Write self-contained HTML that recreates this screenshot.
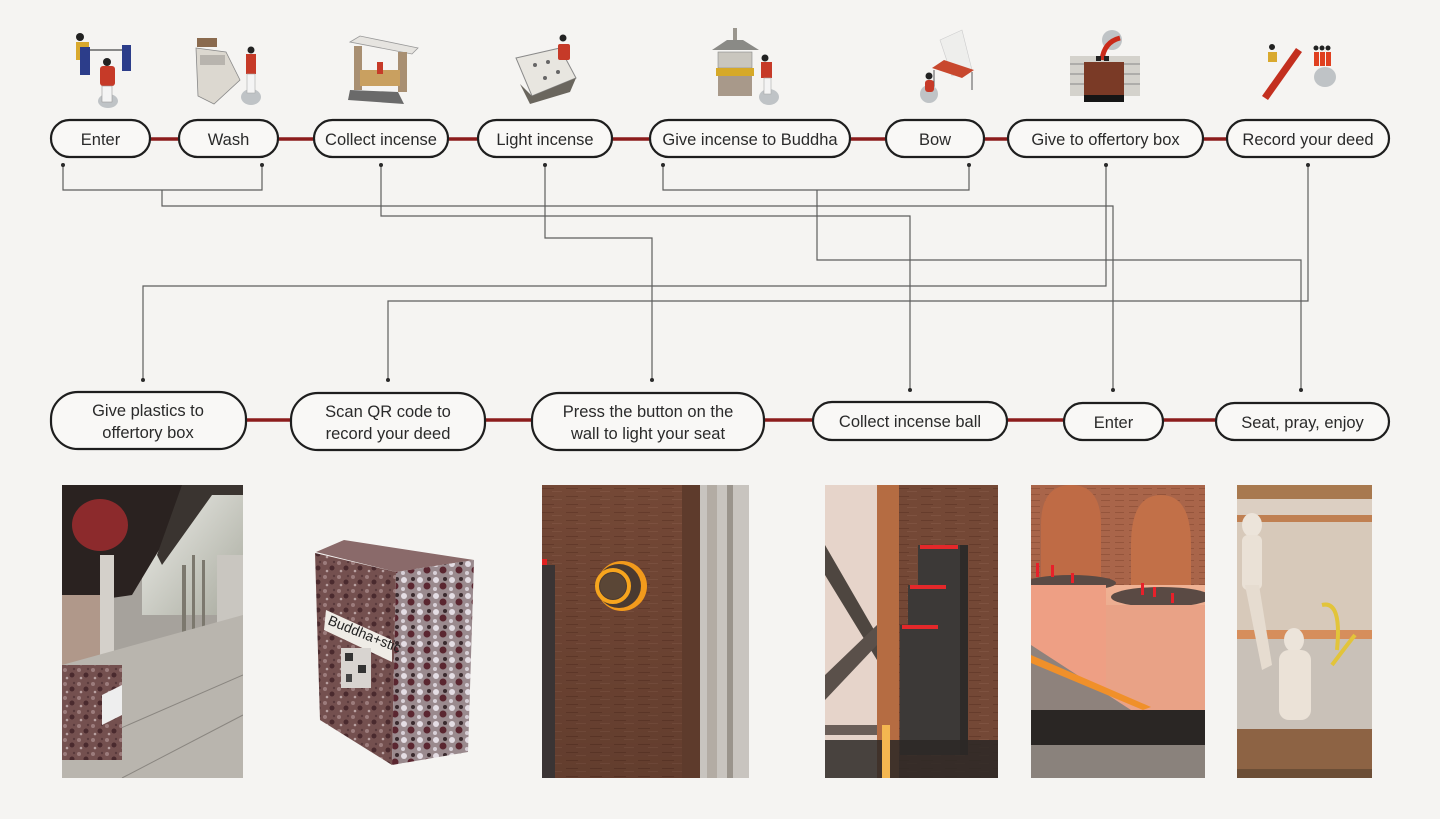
<!DOCTYPE html>
<html><head><meta charset="utf-8">
<style>
html,body{margin:0;padding:0;background:#f5f4f2;}
svg{display:block;}
text{font-family:"Liberation Sans",sans-serif;fill:#2a2a2a;}
</style></head>
<body>
<svg width="1440" height="819" viewBox="0 0 1440 819" xmlns="http://www.w3.org/2000/svg">
<defs>
<pattern id="speck" width="14" height="14" patternUnits="userSpaceOnUse">
<rect width="14" height="14" fill="#74504f"/>
<circle cx="3" cy="3" r="2" fill="#9c7c7c"/><circle cx="10" cy="8" r="2.5" fill="#4a2a2e"/>
<circle cx="5" cy="11" r="1.3" fill="#b8a0a0"/><circle cx="12" cy="2" r="1.2" fill="#5a3a3c"/>
</pattern>
<pattern id="speck2" width="16" height="16" patternUnits="userSpaceOnUse">
<rect width="16" height="16" fill="#9a8a8e"/>
<circle cx="4" cy="4" r="3" fill="#e4dde4"/><circle cx="11" cy="10" r="3.5" fill="#5a2630"/>
<circle cx="3" cy="13" r="2" fill="#d8d0d8"/><circle cx="13" cy="3" r="2" fill="#3a2a2e"/>
</pattern>
<pattern id="wall" width="24" height="8" patternUnits="userSpaceOnUse">
<rect width="24" height="8" fill="#744836"/>
<rect x="0" y="3" width="12" height="1" fill="#663c2c"/>
<rect x="10" y="6" width="10" height="1" fill="#7e5240"/>
</pattern>
<pattern id="brick" width="14" height="6" patternUnits="userSpaceOnUse">
<rect width="14" height="6" fill="#a9654a"/>
<rect x="0" y="3" width="9" height="1" fill="#95553c"/>
</pattern>
<linearGradient id="p5plat" x1="0" y1="0" x2="0" y2="1"><stop offset="0" stop-color="#f0b294"/><stop offset="1" stop-color="#d9907a"/></linearGradient>
<linearGradient id="p1sky" x1="0" y1="0" x2="1" y2="1"><stop offset="0" stop-color="#f0f0ec"/><stop offset="1" stop-color="#a8aa9e"/></linearGradient>
<linearGradient id="p3" x1="0" y1="0" x2="0" y2="1"><stop offset="0" stop-color="#000" stop-opacity="0"/><stop offset="1" stop-color="#000" stop-opacity="0.15"/></linearGradient>
</defs>

<rect width="1440" height="819" fill="#f5f4f2"/>

<!-- ===== connectors ===== -->
<g fill="none" stroke="#5e5e5e" stroke-width="1.2">
<polyline points="63,165 63,190 262,190 262,165"/>
<polyline points="162,190 162,206 1113,206 1113,390"/>
<polyline points="381,165 381,216 910,216 910,390"/>
<polyline points="545,165 545,238 652,238 652,380"/>
<polyline points="663,165 663,190 969,190 969,165"/>
<polyline points="817,190 817,260 1301,260 1301,390"/>
<polyline points="1106,165 1106,286 143,286 143,380"/>
<polyline points="1308,165 1308,301 388,301 388,380"/>
</g>
<g fill="#2a2a2a">
<circle cx="63" cy="165" r="2"/><circle cx="262" cy="165" r="2"/><circle cx="381" cy="165" r="2"/>
<circle cx="545" cy="165" r="2"/><circle cx="663" cy="165" r="2"/><circle cx="969" cy="165" r="2"/>
<circle cx="1106" cy="165" r="2"/><circle cx="1308" cy="165" r="2"/>
<circle cx="143" cy="380" r="2"/><circle cx="388" cy="380" r="2"/><circle cx="652" cy="380" r="2"/>
<circle cx="910" cy="390" r="2"/><circle cx="1113" cy="390" r="2"/><circle cx="1301" cy="390" r="2"/>
</g>

<!-- ===== red links ===== -->
<g stroke="#8c1c1c" stroke-width="3.5">
<line x1="150" y1="139" x2="179" y2="139"/>
<line x1="278" y1="139" x2="314" y2="139"/>
<line x1="448" y1="139" x2="478" y2="139"/>
<line x1="612" y1="139" x2="650" y2="139"/>
<line x1="850" y1="139" x2="886" y2="139"/>
<line x1="984" y1="139" x2="1008" y2="139"/>
<line x1="1203" y1="139" x2="1227" y2="139"/>
<line x1="246" y1="420" x2="290" y2="420"/>
<line x1="486" y1="420" x2="532" y2="420"/>
<line x1="764" y1="420" x2="813" y2="420"/>
<line x1="1007" y1="420" x2="1064" y2="420"/>
<line x1="1163" y1="420" x2="1216" y2="420"/>
</g>

<!-- ===== pills ===== -->
<g fill="#f9f8f6" stroke="#1e1e1e" stroke-width="2.2">
<rect x="51" y="120" width="99" height="37" rx="18.5"/>
<rect x="179" y="120" width="99" height="37" rx="18.5"/>
<rect x="314" y="120" width="134" height="37" rx="18.5"/>
<rect x="478" y="120" width="134" height="37" rx="18.5"/>
<rect x="650" y="120" width="200" height="37" rx="18.5"/>
<rect x="886" y="120" width="98" height="37" rx="18.5"/>
<rect x="1008" y="120" width="195" height="37" rx="18.5"/>
<rect x="1227" y="120" width="162" height="37" rx="18.5"/>
<rect x="51" y="392" width="195" height="57" rx="27"/>
<rect x="291" y="393" width="194" height="57" rx="27"/>
<rect x="532" y="393" width="232" height="57" rx="27"/>
<rect x="813" y="402" width="194" height="38" rx="19"/>
<rect x="1064" y="403" width="99" height="37" rx="18.5"/>
<rect x="1216" y="403" width="173" height="37" rx="18.5"/>
</g>
<g font-size="16.5" text-anchor="middle">
<text x="100.5" y="145">Enter</text>
<text x="228.5" y="145">Wash</text>
<text x="381" y="145">Collect incense</text>
<text x="545" y="145">Light incense</text>
<text x="750" y="145">Give incense to Buddha</text>
<text x="935" y="145">Bow</text>
<text x="1105.5" y="145">Give to offertory box</text>
<text x="1308" y="145">Record your deed</text>
<text x="148" y="416">Give plastics to</text>
<text x="148" y="438">offertory box</text>
<text x="388" y="417">Scan QR code to</text>
<text x="388" y="439">record your deed</text>
<text x="648" y="417">Press the button on the</text>
<text x="648" y="439">wall to light your seat</text>
<text x="910" y="427">Collect incense ball</text>
<text x="1113.5" y="428">Enter</text>
<text x="1302.5" y="428">Seat, pray, enjoy</text>
</g>

<!-- ===== top icons ===== -->
<g>
<ellipse cx="108" cy="101" rx="10" ry="7" fill="#bfc3c6"/>
<rect x="76" y="42" width="13" height="18" fill="#d9a92e"/>
<circle cx="80" cy="37" r="4" fill="#222"/>
<rect x="80" y="47" width="10" height="28" fill="#2c3d8a"/>
<rect x="122" y="45" width="9" height="26" fill="#2c3d8a"/>
<line x1="90" y1="50" x2="122" y2="50" stroke="#888" stroke-width="2"/>
<rect x="100" y="66" width="15" height="20" rx="3" fill="#c63a28"/>
<circle cx="107" cy="62" r="4" fill="#222"/>
<rect x="102" y="86" width="10" height="16" fill="#f4f4f4" stroke="#999" stroke-width="0.6"/>
</g>
<g>
<ellipse cx="251" cy="97" rx="10" ry="8" fill="#bfc3c6"/>
<rect x="197" y="38" width="20" height="9" fill="#8a6a4e"/>
<polygon points="196,48 226,52 240,80 214,104 198,96" fill="#dcd8d0" stroke="#888" stroke-width="0.8"/>
<rect x="200" y="55" width="25" height="10" fill="#b8b4ae"/>
<rect x="246" y="54" width="10" height="20" fill="#c63a28"/>
<circle cx="251" cy="50" r="3.5" fill="#222"/>
<rect x="247" y="74" width="8" height="19" fill="#f4f4f4" stroke="#aaa" stroke-width="0.6"/>
</g>
<g>
<polygon points="350,42 360,36 418,48 412,54" fill="#e6e4e0" stroke="#999" stroke-width="0.8"/>
<rect x="354" y="46" width="8" height="44" fill="#a88f72"/>
<rect x="398" y="52" width="9" height="40" fill="#a88f72"/>
<rect x="360" y="70" width="40" height="16" fill="#c9a060"/>
<rect x="377" y="62" width="6" height="12" fill="#c63a28"/>
<polygon points="350,90 398,92 404,104 348,100" fill="#6a6a6a"/>
</g>
<g>
<polygon points="516,58 560,48 576,78 532,96" fill="#e8e6e0" stroke="#8a8a8a" stroke-width="1"/>
<polygon points="520,84 532,96 576,78 570,92 530,104" fill="#6a665e"/>
<circle cx="535" cy="65" r="2" fill="#666"/><circle cx="548" cy="62" r="2" fill="#666"/>
<circle cx="545" cy="78" r="2" fill="#666"/><circle cx="558" cy="72" r="2" fill="#666"/>
<rect x="558" y="44" width="12" height="16" rx="2" fill="#c63a28"/>
<circle cx="563" cy="38" r="3.5" fill="#222"/>
</g>
<g>
<ellipse cx="769" cy="97" rx="10" ry="8" fill="#bfc3c6"/>
<polygon points="712,50 727,40 743,40 759,50" fill="#8a8a86"/>
<rect x="733" y="28" width="4" height="12" fill="#9a968e"/>
<rect x="718" y="52" width="34" height="16" fill="#c9c6be" stroke="#888" stroke-width="0.6"/>
<rect x="716" y="68" width="38" height="8" fill="#d6a928"/>
<rect x="718" y="76" width="34" height="20" fill="#a8998a"/>
<rect x="761" y="62" width="11" height="16" fill="#c63a28"/>
<circle cx="765" cy="58" r="3.5" fill="#222"/>
<rect x="764" y="78" width="7" height="16" fill="#f4f4f4" stroke="#aaa" stroke-width="0.6"/>
</g>
<g>
<polygon points="940,40 962,30 972,70 952,76" fill="#eeeeec" stroke="#ccc" stroke-width="0.6"/>
<polygon points="932,68 962,78 974,70 944,60" fill="#c8482e"/>
<line x1="934" y1="70" x2="934" y2="88" stroke="#555"/><line x1="972" y1="72" x2="972" y2="90" stroke="#555"/>
<ellipse cx="929" cy="94" rx="9" ry="9" fill="#bfc3c6"/>
<rect x="925" y="80" width="9" height="12" rx="3" fill="#c63a28"/>
<circle cx="929" cy="76" r="3.5" fill="#222"/>
</g>
<g>
<ellipse cx="1112" cy="40" rx="10" ry="10" fill="#bfc3c6"/>
<rect x="1070" y="56" width="70" height="40" fill="#d4d2cc"/>
<line x1="1070" y1="64" x2="1140" y2="64" stroke="#888"/><line x1="1070" y1="74" x2="1140" y2="74" stroke="#888"/><line x1="1070" y1="84" x2="1140" y2="84" stroke="#888"/>
<rect x="1084" y="62" width="40" height="34" fill="#7a3a26"/>
<rect x="1084" y="95" width="40" height="7" fill="#151515"/>
<path d="M1102,60 Q1104,42 1120,38" stroke="#c92a1a" stroke-width="5" fill="none"/>
<rect x="1096" y="56" width="5" height="5" fill="#222"/><rect x="1104" y="56" width="5" height="5" fill="#222"/>
</g>
<g>
<ellipse cx="1325" cy="77" rx="11" ry="10" fill="#bfc3c6"/>
<polygon points="1262,96 1268,100 1302,52 1296,48" fill="#c32f1f"/>
<rect x="1268" y="52" width="9" height="10" fill="#d9a92e"/>
<circle cx="1272" cy="47" r="3" fill="#222"/>
<rect x="1314" y="52" width="5" height="14" fill="#e04020"/><rect x="1320" y="52" width="5" height="14" fill="#e04020"/><rect x="1326" y="52" width="5" height="14" fill="#e04020"/>
<circle cx="1316" cy="48" r="2.5" fill="#222"/><circle cx="1322" cy="48" r="2.5" fill="#222"/><circle cx="1328" cy="48" r="2.5" fill="#222"/>
</g>

<!-- ===== photos ===== -->
<svg x="62" y="485" width="181" height="293" viewBox="0 0 181 293">
<rect width="181" height="293" fill="#a6a29c"/>
<rect x="80" y="0" width="101" height="130" fill="url(#p1sky)"/>
<polygon points="0,0 140,0 100,60 70,110 0,120" fill="#2a2220"/>
<polygon points="120,0 181,0 181,10 150,10 100,80 95,70" fill="#3a3430"/>
<ellipse cx="38" cy="40" rx="28" ry="26" fill="#8c2a2c"/>
<rect x="38" y="70" width="14" height="100" fill="#d4d0ca"/>
<rect x="0" y="110" width="38" height="70" fill="#b0988a"/>
<rect x="155" y="70" width="26" height="80" fill="#c9c6c0"/>
<rect x="120" y="80" width="4" height="100" fill="#7c786e"/><rect x="130" y="70" width="3" height="110" fill="#7c786e"/><rect x="140" y="75" width="3" height="105" fill="#7c786e"/>
<ellipse cx="133" cy="190" rx="22" ry="8" fill="#6a6660"/>
<polygon points="0,180 181,130 181,293 0,293" fill="#b9b5ae"/>
<line x1="60" y1="293" x2="181" y2="230" stroke="#8a8680"/>
<line x1="20" y1="260" x2="181" y2="190" stroke="#8a8680"/>
<rect x="0" y="180" width="60" height="95" fill="url(#speck)"/>
<polygon points="40,210 60,200 60,230 40,240" fill="#eee"/>
</svg>

<g>
<polygon points="316,552 344,540 474,560 396,572" fill="#8a6a6a"/>
<polygon points="315,553 396,572 392,765 320,720" fill="url(#speck)"/>
<polygon points="396,572 474,560 468,752 392,765" fill="url(#speck2)"/>
<polygon points="326,610 392,640 392,662 324,630" fill="#efece6"/>
<text x="0" y="0" font-size="14" transform="translate(327,624) rotate(22)" style="fill:#222">Buddha+stic</text>
<rect x="341" y="648" width="30" height="40" fill="#d8d4d0"/>
<rect x="345" y="653" width="8" height="8" fill="#333"/><rect x="358" y="665" width="8" height="8" fill="#333"/><rect x="346" y="674" width="6" height="8" fill="#444"/>
</g>

<svg x="542" y="485" width="207" height="293" viewBox="0 0 207 293">
<rect width="207" height="293" fill="url(#wall)"/>
<rect width="207" height="293" fill="url(#p3)"/>
<rect x="158" y="0" width="49" height="293" fill="#c8c4bf"/>
<rect x="165" y="0" width="10" height="293" fill="#b3aca4"/>
<rect x="185" y="0" width="6" height="293" fill="#9a948c"/>
<rect x="140" y="0" width="18" height="293" fill="#5e3b2c"/>
<rect x="0" y="80" width="13" height="213" fill="#3a3434"/>
<rect x="0" y="74" width="5" height="6" fill="#e02020"/>
<circle cx="80" cy="101" r="25" fill="#f29a1c"/>
<circle cx="77" cy="101" r="22" fill="#4a3a30"/>
<circle cx="71" cy="101" r="16" fill="none" stroke="#f7a51e" stroke-width="4"/>
<circle cx="71" cy="101" r="13" fill="#5a4636"/>
</svg>

<svg x="825" y="485" width="173" height="293" viewBox="0 0 173 293">
<rect width="173" height="293" fill="url(#wall)"/>
<rect x="0" y="0" width="52" height="293" fill="#e6d4ca"/>
<polygon points="0,60 52,150 52,175 0,90" fill="#4e4640"/>
<polygon points="0,190 52,140 52,160 0,215" fill="#5a504a"/>
<rect x="0" y="240" width="52" height="10" fill="#6a5e58"/>
<rect x="52" y="0" width="22" height="293" fill="#b56c42"/>
<polygon points="93,60 135,60 135,270 75,270 75,140 83,140 83,100 93,100" fill="#3c3937"/>
<rect x="135" y="60" width="8" height="210" fill="#2e2b29"/>
<g fill="#e4282a">
<rect x="95" y="60" width="38" height="4"/><rect x="85" y="100" width="36" height="4"/><rect x="77" y="140" width="36" height="4"/>
</g>
<rect x="0" y="255" width="173" height="38" fill="#2b2826" opacity="0.85"/>
<rect x="57" y="240" width="8" height="53" fill="#f4b650"/>
</svg>

<svg x="1031" y="485" width="174" height="293" viewBox="0 0 174 293">
<rect width="174" height="293" fill="url(#brick)"/>
<path d="M10,100 L10,40 Q10,0 40,0 Q70,0 70,40 L70,100 Z" fill="#bf6b45"/>
<path d="M100,130 L100,60 Q100,10 130,10 Q160,10 160,60 L160,130 Z" fill="#c27048"/>
<rect x="0" y="100" width="174" height="150" fill="url(#p5plat)"/>
<ellipse cx="40" cy="98" rx="45" ry="8" fill="#5a4a44"/>
<ellipse cx="130" cy="112" rx="50" ry="10" fill="#5a4a44"/>
<rect x="75" y="120" width="100" height="120" fill="#e9a286"/>
<rect x="0" y="100" width="75" height="115" fill="#ee9f84"/>
<polygon points="0,160 0,240 174,240 174,225 100,225" fill="#8e827c"/>
<polygon points="0,170 120,222 112,225 0,178" fill="#f0902a"/>
<g fill="#e8202a"><rect x="5" y="78" width="3" height="14"/><rect x="20" y="80" width="3" height="12"/><rect x="40" y="88" width="3" height="10"/><rect x="110" y="98" width="3" height="12"/><rect x="122" y="102" width="3" height="10"/><rect x="140" y="108" width="3" height="10"/></g>
<rect x="0" y="225" width="174" height="35" fill="#2a2624"/>
<rect x="0" y="260" width="174" height="33" fill="#8a827c"/>
</svg>

<svg x="1237" y="485" width="135" height="293" viewBox="0 0 135 293">
<rect width="135" height="293" fill="#dccfc2"/>
<rect x="0" y="0" width="135" height="14" fill="#a8794f"/>
<rect x="0" y="30" width="135" height="7" fill="#c08052"/>
<rect x="0" y="37" width="135" height="110" fill="#d7c9ba"/>
<rect x="0" y="145" width="135" height="9" fill="#d68e5c"/>
<rect x="0" y="154" width="135" height="90" fill="#c9c1b8"/>
<ellipse cx="15" cy="40" rx="10" ry="12" fill="#ece4da"/>
<rect x="5" y="50" width="20" height="55" rx="6" fill="#eae1d6"/>
<polygon points="8,100 22,100 35,180 25,185" fill="#e6dcd0"/>
<ellipse cx="57" cy="155" rx="10" ry="12" fill="#ece4da"/>
<rect x="42" y="165" width="32" height="70" rx="10" fill="#ebe2d7"/>
<path d="M95,180 Q110,160 118,150" stroke="#e2c43a" stroke-width="4" fill="none"/>
<path d="M85,120 Q105,115 100,165" stroke="#e2c43a" stroke-width="4" fill="none"/>
<rect x="0" y="244" width="135" height="40" fill="#8d6344"/>
<rect x="0" y="284" width="135" height="9" fill="#6c4e36"/>
</svg>

</svg>
</body></html>
